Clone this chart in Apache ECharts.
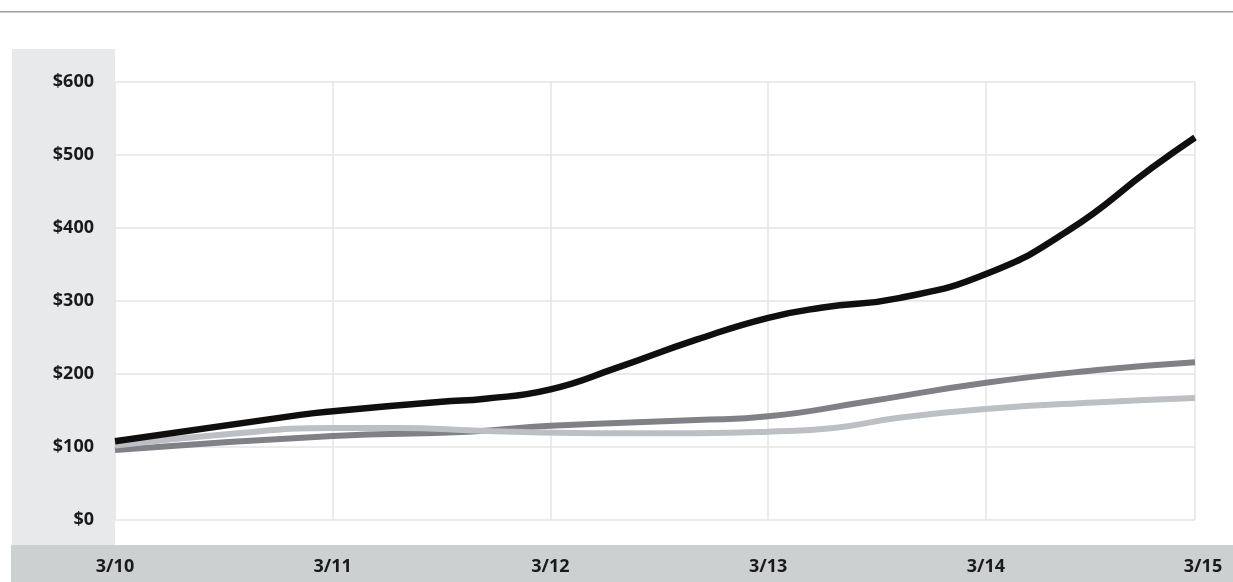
<!DOCTYPE html>
<html>
<head>
<meta charset="utf-8">
<script src="https://cdn.jsdelivr.net/npm/echarts@6/dist/echarts.min.js"></script>
<style>
  html, body { margin: 0; padding: 0; background: #fff; }
  #chart { width: 1233px; height: 582px; }
</style>
</head>
<body>
<div id="chart"></div>
<script>
// x positions are days after 3/10 (0 = 3/10, 5 = 3/15)
const dayLabels = ['3/10', '3/11', '3/12', '3/13', '3/14', '3/15']
const yTicks = [0, 100, 200, 300, 400, 500, 600]

const blackX = [0, 0.85, 1.0, 1.5, 1.7, 2.0, 2.3, 2.67, 3.0, 3.25, 3.6, 4.0, 4.38, 4.76, 4.96]
const blackY = [108, 144, 149, 162, 166, 179, 208, 247, 277, 291, 304, 337, 397, 482, 524]

const darkX = [0, 1.0, 1.62, 2.0, 2.67, 3.0, 3.45, 4.0, 4.5, 4.96]
const darkY = [96, 115, 121, 129, 137, 142, 162, 188, 205, 216]

const lightX = [0, 0.5, 1.0, 1.3, 1.7, 2.2, 2.67, 3.0, 3.3, 3.6, 4.0, 4.5, 4.96]
const lightY = [102, 117, 126, 126, 122, 119, 119, 121, 126, 140, 152, 161, 167]

const pairs = (xs, ys) => xs.map((x, i) => [x, ys[i]])

let myChart = echarts.init(document.getElementById('chart'))

const labelFont = {fontFamily: 'Noto Sans', fontWeight: 'bold', fontSize: 18, color: '#1a1a1a'}

let option = {
  animation: false,
  grid: {left: 115, right: 38, top: 82, bottom: 62},
  graphic: [
    // top rule
    {type: 'rect', shape: {x: 0, y: 11, width: 1233, height: 1.5}, style: {fill: '#9c9da3'}, silent: true},
    // left label panel
    {type: 'rect', shape: {x: 12, y: 49, width: 103, height: 496}, style: {fill: '#e8e9eb'}, silent: true, z: -10},
    // bottom label band
    {type: 'rect', shape: {x: 11, y: 545, width: 1222, height: 37}, style: {fill: '#cdd0d1'}, silent: true, z: -10},
  ],
  xAxis: {
    type: 'value',
    min: 0,
    max: 4.96,
    interval: 1,
    axisLine: {show: false},
    axisTick: {show: false},
    splitLine: {show: true, lineStyle: {color: '#e4e4e6', width: 1.5}},
    axisLabel: Object.assign({}, labelFont, {
      margin: 38,
      showMinLabel: true,
      showMaxLabel: true,
      formatter: (v) => {
        if (v > 4.5) return '{last|' + dayLabels[5] + '}'
        return dayLabels[Math.round(v)]
      },
      rich: {last: Object.assign({}, labelFont, {padding: [0, 0, 0, 16]})}
    })
  },
  yAxis: {
    type: 'value',
    min: yTicks[0],
    max: yTicks[yTicks.length - 1],
    interval: 100,
    axisLine: {show: false},
    axisTick: {show: false},
    splitLine: {show: true, lineStyle: {color: '#e4e4e6', width: 1.5}},
    axisLabel: Object.assign({}, labelFont, {
      margin: 21,
      formatter: (v) => '$' + v
    })
  },
  series: [
    {
      name: 'dark', type: 'line', data: pairs(darkX, darkY), smooth: 0.5,
      showSymbol: false, lineStyle: {color: '#7f8186', width: 6}, z: 2
    },
    {
      name: 'light', type: 'line', data: pairs(lightX, lightY), smooth: 0.5,
      showSymbol: false, lineStyle: {color: '#bcbfc3', width: 6}, z: 3
    },
    {
      name: 'black', type: 'line', data: pairs(blackX, blackY), smooth: 0.5,
      showSymbol: false, lineStyle: {color: '#110e0e', width: 6.5}, z: 4
    }
  ]
}
myChart.setOption(option)
</script>
</body>
</html>
